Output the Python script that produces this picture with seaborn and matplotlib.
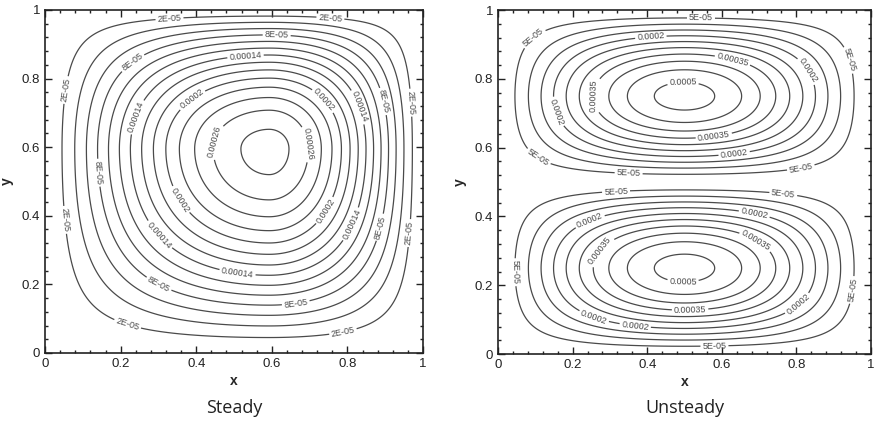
import numpy as np
import seaborn as sns
import matplotlib.pyplot as plt
from matplotlib.ticker import MultipleLocator, FuncFormatter

sns.set_theme(style='ticks')
plt.rcParams['font.family'] = ['Liberation Sans', 'DejaVu Sans']

# steady case: one cell, centre and peak
steady_center = (0.593, 0.595)
steady_peak = 0.000287
# profile sharpness on each wall side: left, right, bottom, top
steady_sides = (1.25, 1.2, 1.25, 1.0)
steady_levels = [2e-05, 4e-05, 6e-05, 8e-05, 0.0001, 0.00012, 0.00014,
                 0.00016, 0.00018, 0.0002, 0.00022, 0.00024, 0.00026, 0.00028]

# unsteady case: two stacked cells
unsteady_peak = 0.00052
unsteady_levels = [5e-05, 0.0001, 0.00015, 0.0002, 0.00025, 0.0003,
                   0.00035, 0.0004, 0.00045, 0.0005]

# label spots, one list per labelled level (every third level)
steady_label_pos = [
    [(0.33, 0.962), (0.754, 0.962), (0.053, 0.767), (0.053, 0.388),
     (0.957, 0.729), (0.96, 0.35), (0.216, 0.076), (0.79, 0.052)],
    [(0.613, 0.933), (0.207, 0.883), (0.124, 0.524), (0.913, 0.738),
     (0.917, 0.358), (0.296, 0.19), (0.666, 0.125)],
    [(0.529, 0.886), (0.212, 0.70), (0.296, 0.338), (0.507, 0.218),
     (0.86, 0.729), (0.855, 0.353)],
    [(0.366, 0.772), (0.762, 0.761), (0.357, 0.446), (0.78, 0.388)],
    [(0.432, 0.62), (0.72, 0.612)],
]
unsteady_label_pos = [
    [(0.544, 0.959), (0.09, 0.927), (0.942, 0.855), (0.098, 0.555),
     (0.35, 0.52), (0.814, 0.529), (0.316, 0.482), (0.766, 0.477),
     (0.05, 0.238), (0.952, 0.186), (0.58, 0.04)],
    [(0.41, 0.918), (0.846, 0.835), (0.147, 0.70), (0.634, 0.574),
     (0.236, 0.415), (0.69, 0.424), (0.81, 0.137), (0.257, 0.108),
     (0.368, 0.084)],
    [(0.63, 0.86), (0.225, 0.753), (0.58, 0.622), (0.262, 0.311),
     (0.70, 0.346), (0.515, 0.128)],
    [(0.496, 0.788), (0.496, 0.21)],
]


def profile(v, c, p_low, p_high):
    s = np.where(v < c, v / c, (1 - v) / (1 - c))
    p = np.where(v < c, p_low, p_high)
    return np.sin(np.pi / 2 * np.clip(s, 0, 1)) ** p


def fmt(v):
    return f"{v:.0E}" if v < 1e-4 else f"{v:g}"


g = np.linspace(0, 1, 501)
X, Y = np.meshgrid(g, g)
pl, pr, pb, pt = steady_sides
steady = (steady_peak * profile(X, steady_center[0], pl, pr)
          * profile(Y, steady_center[1], pb, pt))
unsteady = unsteady_peak * (np.sin(np.pi * X) * np.abs(np.sin(2 * np.pi * Y))) ** 1.2

fig = plt.figure(figsize=(8.76, 4.23), dpi=100)
ax1 = fig.add_axes([0.0514, 0.1655, 0.4315, 0.811])
ax2 = fig.add_axes([0.5685, 0.163, 0.4258, 0.813])

panels = [(ax1, steady, steady_levels, steady_label_pos, 'Steady'),
          (ax2, unsteady, unsteady_levels, unsteady_label_pos, 'Unsteady')]

line_kw = dict(colors='#4a4a4a', linewidths=0.9)
for ax, field, levels, label_pos, title in panels:
    labeled = levels[::3]
    plain = [lv for lv in levels if lv not in labeled]
    ax.contour(X, Y, field, levels=plain, **line_kw)
    for lv, spots in zip(labeled, label_pos):
        cs = ax.contour(X, Y, field, levels=[lv], **line_kw)
        ax.clabel(cs, fmt=fmt, fontsize=6.5, inline=True, inline_spacing=2,
                  manual=spots)
    ax.set_xlim(0, 1)
    ax.set_ylim(0, 1)
    ax.xaxis.set_major_locator(MultipleLocator(0.2))
    ax.yaxis.set_major_locator(MultipleLocator(0.2))
    ax.xaxis.set_minor_locator(MultipleLocator(0.04))
    ax.yaxis.set_minor_locator(MultipleLocator(0.04))
    ax.xaxis.set_major_formatter(FuncFormatter(lambda v, _: f"{v:g}"))
    ax.yaxis.set_major_formatter(FuncFormatter(lambda v, _: f"{v:g}"))
    ax.tick_params(which='both', direction='in', top=True, right=True,
                   colors='#222222', labelsize=9.5, width=1.0)
    ax.tick_params(which='major', length=5)
    ax.tick_params(which='minor', length=2.5)
    for sp in ax.spines.values():
        sp.set_linewidth(1.2)
        sp.set_color('#222222')
    ax.set_xlabel('x', fontweight='bold', fontsize=10, labelpad=3)
    ax.set_ylabel('y', fontweight='bold', fontsize=10, labelpad=6)
    pos = ax.get_position()
    fig.text(pos.x0 + pos.width / 2, 0.035, title, ha='center', va='center',
             fontsize=13, family=['Open Sans', 'DejaVu Sans'], color='#222222')

fig.savefig('out.png', dpi=100)
